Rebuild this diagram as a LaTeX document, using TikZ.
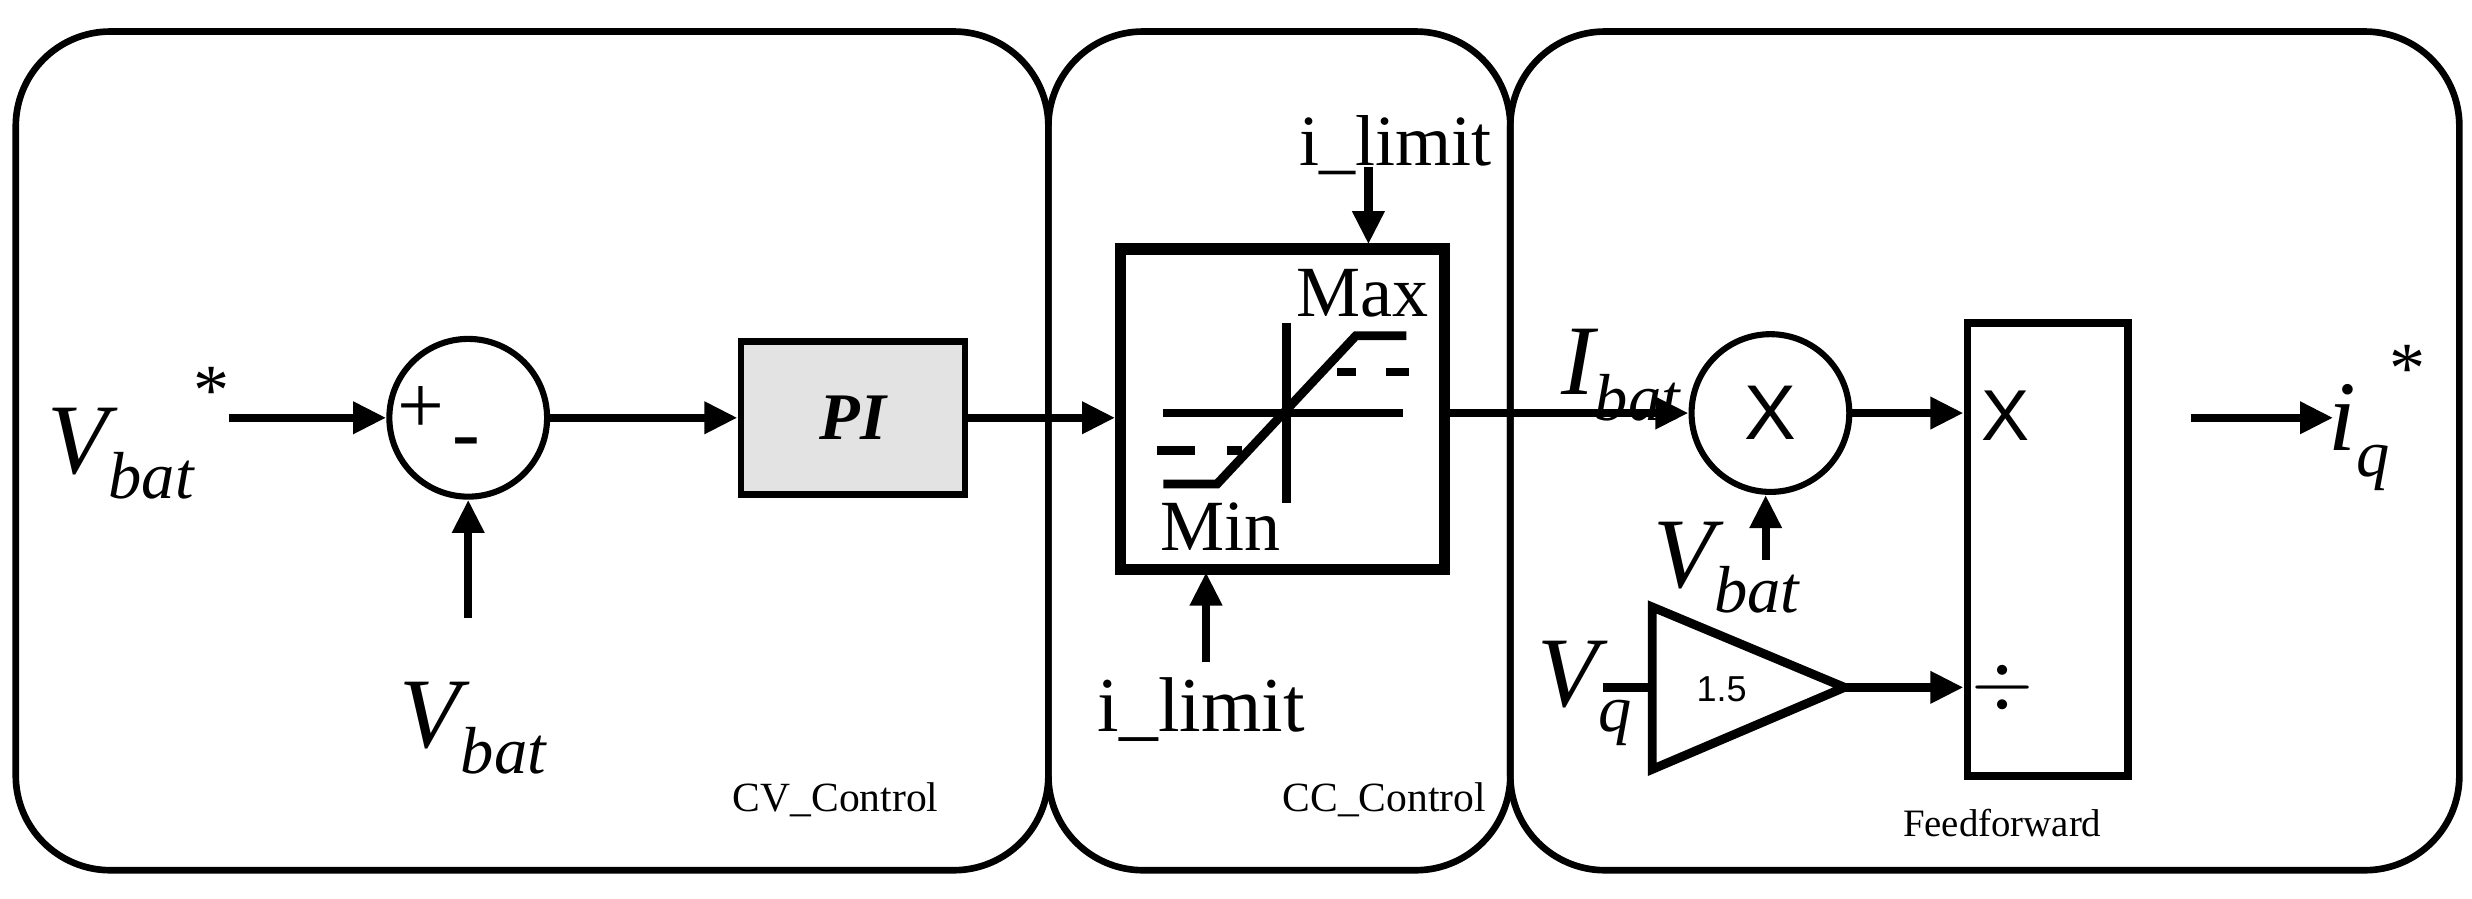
\documentclass[tikz,border=0pt]{standalone}
\usepackage{fontspec}
\setmainfont{Liberation Serif}
\newfontfamily\sansf{Liberation Sans}
\usetikzlibrary{arrows.meta,shapes.geometric}
\newcommand\symb[3]{{\fontsize{18}{18}\selectfont\itshape #1}\raisebox{-1.0ex}{\fontsize{12}{12}\selectfont\itshape #2}\raisebox{2.3ex}{\fontsize{13}{13}\selectfont #3}}
\begin{document}
\begin{tikzpicture}[x=0.01cm,y=-0.01cm,
  grp/.style={line width=1.2pt,rounded corners=0.6cm},
  sig/.style={line width=1.5pt,-{Triangle[length=6pt,width=5.5pt]}},
  wire/.style={line width=1.5pt},
  circ/.style={circle,draw,line width=1.1pt,minimum size=1cm,inner sep=0pt},
  lbl/.style={font=\fontsize{13}{13}\selectfont},
  small/.style={font=\fontsize{7.5}{8}\selectfont},
  satl/.style={line width=1.6pt}]
\useasboundingbox (0,0) rectangle (1568,570);
\fill[white] (0,0) rectangle (1568,570);
% group boxes
\draw[grp] (10,20) rectangle (665,552);
\draw[grp] (665,20) rectangle (958,552);
\draw[grp] (958,20) rectangle (1560,552);
\node[small] (cvl) at (530,507) {CV\_Control};
\node[small] (ccl) at (878,507) {CC\_Control};
\node[small,font=\fontsize{7}{8}\selectfont] (ffl) at (1270,522) {Feedforward};
% CV control
\node (vref) at (88,275) {\symb{V}{bat}{*}};
\coordinate (vrefo) at (145,265);
\node[circ] (sum) at (297,265) {};
\node[font=\fontsize{15}{15}\selectfont] (plus) at (267,260) {+};
\node[font=\fontsize{15}{15}\selectfont] (minus) at (296,285) {-};
\draw[sig] (vrefo) -- (sum.west);
\node (vbat1) at (300,462) {\symb{V}{bat}{}};
\coordinate (fb) at (297,392);
\draw[sig] (fb) -- (sum.south);
\node[draw,line width=1.2pt,fill=gray!22,minimum width=1.42cm,minimum height=0.97cm,
  font=\bfseries\itshape\fontsize{12}{12}\selectfont] (pi) at (541,265) {PI};
\draw[sig] (sum.east) -- (pi.west);
% saturation
\node[draw,line width=2pt,minimum width=2.05cm,minimum height=2.03cm] (sat) at (813.5,259.5) {};
\draw[sig] (pi.east) -- (pi.east -| sat.west);
\draw[satl] (816,205) -- (816,319);
\draw[satl] (738,262) -- (890,262);
\draw[satl] (738,307) -- (772,307) -- (860,213) -- (892,213);
\draw[satl] (848,236) -- (860,236) (879,236) -- (894,236);
\draw[satl] (734,286) -- (758,286) (778,286) -- (788,286);
\node[lbl] (max) at (864,186) {Max};
\node[lbl] (min) at (774,334) {Min};
\node[lbl] (ilt) at (885,92) {i\_limit};
\coordinate (iltb) at (868,106);
\draw[sig] (iltb) -- (868,155);
\node[lbl,font=\fontsize{14}{14}\selectfont] (ilb) at (762,450) {i\_limit};
\coordinate (ilbt) at (765,420);
\draw[sig] (ilbt) -- (765,363);
% feedforward
\node[circ] (mul) at (1123,262) {\sansf\fontsize{14}{14}\selectfont X};
\draw[sig] (sat.east |- mul.west) -- (mul.west);
\node (ibat) at (1028,238) {\symb{I}{bat}{}};
\node (vbat2) at (1095,360) {\symb{V}{bat}{}};
\coordinate (vb2) at (1120,355);
\draw[sig] (vb2) -- (vb2 |- mul.south);
\node[draw,line width=1.4pt,minimum width=1.02cm,minimum height=2.87cm] (div) at (1299,348.5) {};
\node[font=\sansf\fontsize{13}{13}\selectfont] (dx) at (1272,264) {X};
\node[font=\fontsize{14}{14}\selectfont] (dd) at (1270,436) {$\div$};
\draw[sig] (mul.east) -- (mul.east -| div.west);
\coordinate (g1) at (1048,385);
\coordinate (g2) at (1048,488);
\coordinate (gapex) at (1170,436);
\draw[line width=1.6pt,line join=miter] (g1) -- (gapex) -- (g2) -- cycle;
\node[font=\sansf\fontsize{6.5}{6.5}\selectfont] (gv) at (1092,437) {1.5};
\node (vq) at (1005,440) {\symb{V}{q}{}};
\coordinate (vqo) at (1017,436);
\draw[wire] (vqo) -- (1048,436);
\draw[sig] (gapex) -- (gapex -| div.west);
\coordinate (iqs) at (1390,265);
\node (iq) at (1508,265) {\symb{i}{q}{*}};
\draw[sig] (iqs) -- (1480,265);
\end{tikzpicture}
\end{document}
